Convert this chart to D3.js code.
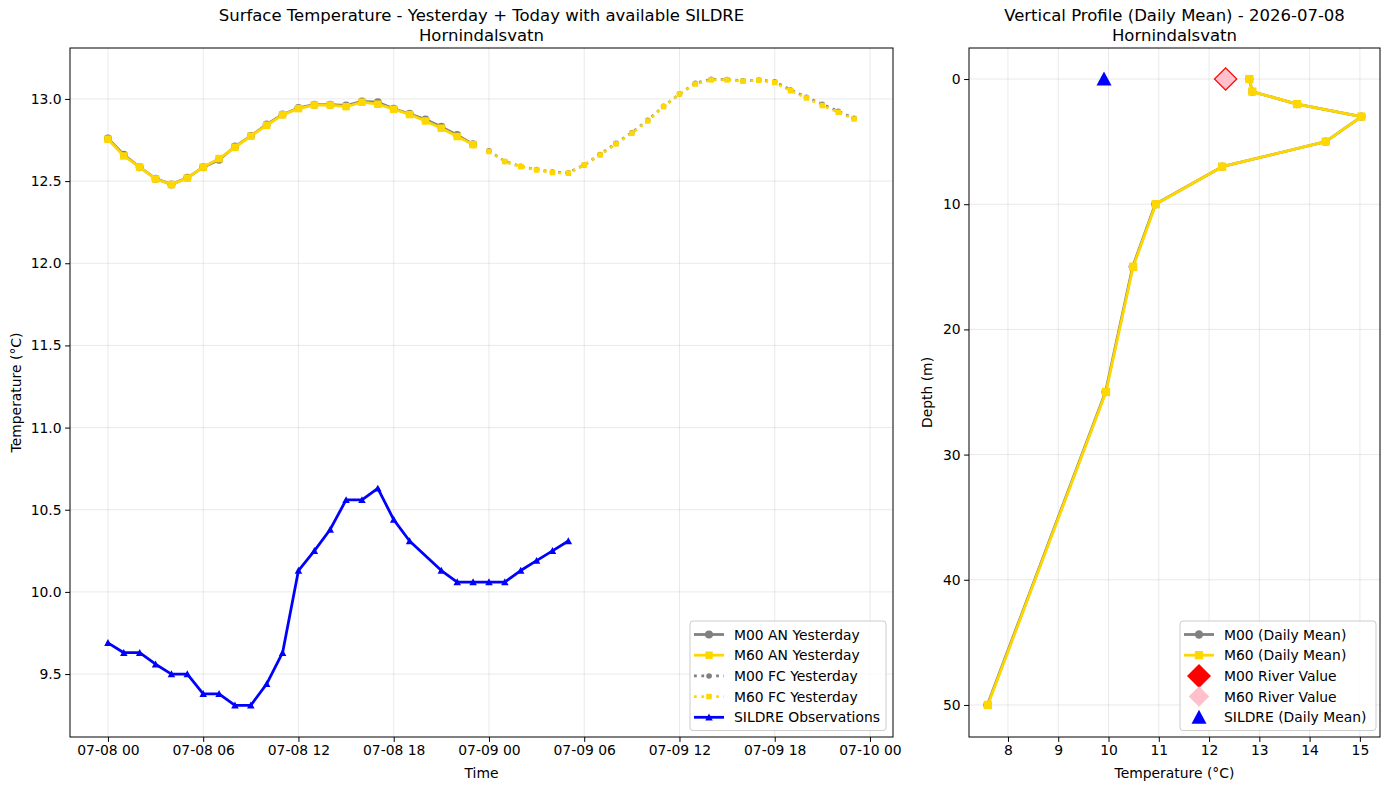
<!DOCTYPE html>
<html>
<meta charset="utf-8">
<style>
  body { margin: 0; background: #fff; }
  text { font-family: "DejaVu Sans", sans-serif; fill: #000; }
</style>
<script src="https://d3js.org/d3.v7.min.js"></script>
<body>
<script>
  var svgWidth = 1389, svgHeight = 790;

  // surface temperature, hourly from 2026-07-08 00 UTC
  var start = Date.UTC(2026, 6, 8, 0);
  var anHours = d3.range(0, 24);
  var m00An = [12.76, 12.66, 12.585, 12.515, 12.48, 12.52, 12.585, 12.63, 12.71, 12.775, 12.845, 12.905,
               12.945, 12.965, 12.965, 12.96, 12.985, 12.98, 12.94, 12.91, 12.875, 12.83, 12.78, 12.725];
  var m60An = [12.755, 12.653, 12.585, 12.513, 12.479, 12.518, 12.585, 12.637, 12.706, 12.773, 12.84, 12.903,
               12.941, 12.963, 12.963, 12.953, 12.98, 12.968, 12.937, 12.905, 12.866, 12.822, 12.771, 12.722];
  var fcHours = d3.range(24, 48);
  var m00Fc = [12.685, 12.62, 12.59, 12.57, 12.555, 12.55, 12.598, 12.662, 12.73, 12.795, 12.87, 12.955,
               13.03, 13.095, 13.12, 13.118, 13.11, 13.115, 13.105, 13.055, 13.01, 12.968, 12.925, 12.882];
  var m60Fc = [12.68, 12.619, 12.588, 12.568, 12.552, 12.548, 12.598, 12.659, 12.726, 12.791, 12.866, 12.953,
               13.03, 13.091, 13.116, 13.116, 13.108, 13.114, 13.1, 13.05, 13.006, 12.96, 12.919, 12.878];
  var sildreHours = [0, 1, 2, 3, 4, 5, 6, 7, 8, 9, 10, 11, 12, 13, 14, 15, 16, 17, 18, 19,
                     21, 22, 23, 24, 25, 26, 27, 28, 29];
  var sildreTemp = [9.69, 9.63, 9.63, 9.56, 9.50, 9.50, 9.38, 9.38, 9.31, 9.31, 9.44, 9.63, 10.13, 10.25,
                    10.38, 10.56, 10.56, 10.63, 10.44, 10.31, 10.13, 10.06, 10.06, 10.06, 10.06, 10.13,
                    10.19, 10.25, 10.31];
  var tempTicks = [9.5, 10.0, 10.5, 11.0, 11.5, 12.0, 12.5, 13.0];
  var timeTickHours = [0, 6, 12, 18, 24, 30, 36, 42, 48];

  // vertical profile (daily mean)
  var depths = [0, 1, 2, 3, 5, 7, 10, 15, 25, 50];
  var m00Profile = [12.8, 12.86, 13.75, 15.03, 14.32, 12.26, 10.93, 10.48, 9.94, 7.59];
  var m60Profile = [12.8, 12.86, 13.75, 15.03, 14.32, 12.26, 10.94, 10.49, 9.95, 7.60];
  var riverM00 = 12.33, riverM60 = 12.33, sildreMean = 9.91;
  var profTempTicks = [8, 9, 10, 11, 12, 13, 14, 15];
  var depthTicks = [0, 10, 20, 30, 40, 50];

  var GREY = "#808080", GOLD = "#ffd700", BLUE = "#0000ff";
  var FS = "13.9px", LW = 2.78, DOT = "2.78,4.6";

  var svg = d3.select("body").append("svg")
    .attr("width", svgWidth).attr("height", svgHeight);

  function hr(h) { return new Date(start + h * 3600e3); }

  function grid(g, x0, x1, y0, y1, xs, ys, xv, yv) {
    g.selectAll(".gx").data(xv).enter().append("line")
      .attr("x1", function(d){ return xs(d); }).attr("x2", function(d){ return xs(d); })
      .attr("y1", y0).attr("y2", y1)
      .attr("stroke", "#b0b0b0").attr("stroke-opacity", 0.35).attr("stroke-width", 0.8);
    g.selectAll(".gy").data(yv).enter().append("line")
      .attr("y1", function(d){ return ys(d); }).attr("y2", function(d){ return ys(d); })
      .attr("x1", x0).attr("x2", x1)
      .attr("stroke", "#b0b0b0").attr("stroke-opacity", 0.35).attr("stroke-width", 0.8);
  }

  function styleAxis(a) {
    a.select(".domain").remove();
    a.selectAll(".tick line").attr("stroke", "#000").attr("stroke-width", 1);
    a.selectAll(".tick text").style("font-size", FS).attr("fill", "#000");
  }

  function frame(x0, x1, y0, y1) {
    svg.append("rect").attr("x", x0).attr("y", y0).attr("width", x1 - x0).attr("height", y1 - y0)
      .attr("fill", "none").attr("stroke", "#000").attr("stroke-width", 1);
  }

  function marker(g, shape, cx, cy, size, fill, stroke) {
    var s = size / 2, p;
    if (shape === "circle") {
      return g.append("circle").attr("cx", cx).attr("cy", cy).attr("r", s).attr("fill", fill);
    }
    if (shape === "square") p = [[-s,-s],[s,-s],[s,s],[-s,s]];
    if (shape === "diamond") p = [[0,-s],[s,0],[0,s],[-s,0]];
    if (shape === "triangle") p = [[0,-s],[s,s*0.85],[-s,s*0.85]];
    var el = g.append("path")
      .attr("d", "M" + p.map(function(q){ return (cx + q[0]) + "," + (cy + q[1]); }).join("L") + "Z")
      .attr("fill", fill);
    if (stroke) el.attr("stroke", stroke).attr("stroke-width", 1.2);
    return el;
  }

  function series(g, xs, ys, xv, yv, color, lw, dash, shape, size) {
    var pts = xv.map(function(d, i){ return [xs(d), ys(yv[i])]; });
    var line = g.append("path").attr("d", d3.line()(pts))
      .attr("fill", "none").attr("stroke", color).attr("stroke-width", lw)
      .attr("stroke-linejoin", "round");
    if (dash) line.attr("stroke-dasharray", dash);
    pts.forEach(function(p){ marker(g, shape, p[0], p[1], size, color); });
  }

  function legend(x, y, w, items) {
    var g = svg.append("g").attr("transform", "translate(" + x + "," + y + ")");
    g.append("rect").attr("width", w).attr("height", items.length * 20.7 + 6)
      .attr("rx", 3).attr("fill", "#fff").attr("fill-opacity", 0.8)
      .attr("stroke", "#cccccc").attr("stroke-width", 1);
    items.forEach(function(it, i){
      var cy = 13.5 + i * 20.7;
      if (it.line) {
        var l = g.append("line").attr("x1", 4).attr("x2", 34).attr("y1", cy).attr("y2", cy)
          .attr("stroke", it.color).attr("stroke-width", LW);
        if (it.dash) l.attr("stroke-dasharray", it.dash);
      }
      marker(g, it.shape, 19, cy, it.size, it.color);
      g.append("text").attr("x", 44).attr("y", cy + 5).style("font-size", FS).text(it.label);
    });
  }

  function title(cx, l1, l2) {
    svg.append("text").attr("x", cx).attr("y", 21).attr("text-anchor", "middle")
      .style("font-size", "16.5px").text(l1);
    svg.append("text").attr("x", cx).attr("y", 40.5).attr("text-anchor", "middle")
      .style("font-size", "16.5px").text(l2);
  }

  // ---------- left panel ----------
  var L = { x0: 70, x1: 893, y0: 48, y1: 737 };
  var x = d3.scaleUtc().domain([hr(-2.39), hr(49.45)]).range([L.x0, L.x1]);
  var y = d3.scaleLinear().domain([9.117, 13.31]).range([L.y1, L.y0]);
  var gl = svg.append("g");
  grid(gl, L.x0, L.x1, L.y0, L.y1, x, y, timeTickHours.map(hr), tempTicks);

  series(gl, x, y, anHours.map(hr), m00An, GREY, LW, null, "circle", 8);
  series(gl, x, y, anHours.map(hr), m60An, GOLD, LW, null, "square", 7.5);
  series(gl, x, y, fcHours.map(hr), m00Fc, GREY, LW, DOT, "circle", 5.5);
  series(gl, x, y, fcHours.map(hr), m60Fc, GOLD, LW, DOT, "square", 5.5);
  series(gl, x, y, sildreHours.map(hr), sildreTemp, BLUE, LW, null, "triangle", 7.5);

  var ax = svg.append("g").attr("transform", "translate(0," + L.y1 + ")")
    .call(d3.axisBottom(x).tickValues(timeTickHours.map(hr)).tickFormat(d3.utcFormat("%m-%d %H"))
      .tickSize(4.9).tickPadding(3.5));
  styleAxis(ax);
  var ay = svg.append("g").attr("transform", "translate(" + L.x0 + ",0)")
    .call(d3.axisLeft(y).tickValues(tempTicks).tickFormat(d3.format(".1f")).tickSize(4.9).tickPadding(3.5));
  styleAxis(ay);
  frame(L.x0, L.x1, L.y0, L.y1);

  svg.append("text").attr("x", (L.x0 + L.x1) / 2).attr("y", 778).attr("text-anchor", "middle")
    .style("font-size", FS).text("Time");
  svg.append("text").attr("transform", "translate(21," + (L.y0 + L.y1) / 2 + ") rotate(-90)")
    .attr("text-anchor", "middle").style("font-size", FS).text("Temperature (°C)");
  title((L.x0 + L.x1) / 2, "Surface Temperature - Yesterday + Today with available SILDRE", "Hornindalsvatn");

  legend(690, 621, 196, [
    { label: "M00 AN Yesterday", color: GREY, line: true, shape: "circle", size: 8 },
    { label: "M60 AN Yesterday", color: GOLD, line: true, shape: "square", size: 7.5 },
    { label: "M00 FC Yesterday", color: GREY, line: true, dash: DOT, shape: "circle", size: 5.5 },
    { label: "M60 FC Yesterday", color: GOLD, line: true, dash: DOT, shape: "square", size: 5.5 },
    { label: "SILDRE Observations", color: BLUE, line: true, shape: "triangle", size: 7.5 }
  ]);

  // ---------- right panel ----------
  var R = { x0: 969, x1: 1380, y0: 48, y1: 737 };
  var xp = d3.scaleLinear().domain([7.225, 15.4]).range([R.x0, R.x1]);
  var yp = d3.scaleLinear().domain([-2.48, 52.56]).range([R.y0, R.y1]);
  var gr = svg.append("g");
  grid(gr, R.x0, R.x1, R.y0, R.y1, xp, yp, profTempTicks, depthTicks);

  series(gr, xp, yp, m00Profile, depths, GREY, LW, null, "circle", 8.3);
  series(gr, xp, yp, m60Profile, depths, GOLD, LW, null, "square", 8.3);
  marker(gr, "diamond", xp(riverM00), yp(0), 24, "#ff0000");
  marker(gr, "diamond", xp(riverM60), yp(0), 20.5, "#ffc0cb");
  marker(gr, "triangle", xp(sildreMean), yp(0), 15, BLUE);

  var axp = svg.append("g").attr("transform", "translate(0," + R.y1 + ")")
    .call(d3.axisBottom(xp).tickValues(profTempTicks).tickSize(4.9).tickPadding(3.5));
  styleAxis(axp);
  var ayp = svg.append("g").attr("transform", "translate(" + R.x0 + ",0)")
    .call(d3.axisLeft(yp).tickValues(depthTicks).tickSize(4.9).tickPadding(3.5));
  styleAxis(ayp);
  frame(R.x0, R.x1, R.y0, R.y1);

  svg.append("text").attr("x", (R.x0 + R.x1) / 2).attr("y", 778).attr("text-anchor", "middle")
    .style("font-size", FS).text("Temperature (°C)");
  svg.append("text").attr("transform", "translate(932," + (R.y0 + R.y1) / 2 + ") rotate(-90)")
    .attr("text-anchor", "middle").style("font-size", FS).text("Depth (m)");
  title((R.x0 + R.x1) / 2, "Vertical Profile (Daily Mean) - 2026-07-08", "Hornindalsvatn");

  legend(1180, 621, 196, [
    { label: "M00 (Daily Mean)", color: GREY, line: true, shape: "circle", size: 8.3 },
    { label: "M60 (Daily Mean)", color: GOLD, line: true, shape: "square", size: 8.3 },
    { label: "M00 River Value", color: "#ff0000", shape: "diamond", size: 24 },
    { label: "M60 River Value", color: "#ffc0cb", shape: "diamond", size: 20.5 },
    { label: "SILDRE (Daily Mean)", color: BLUE, shape: "triangle", size: 15 }
  ]);
</script>
</body>
</html>
